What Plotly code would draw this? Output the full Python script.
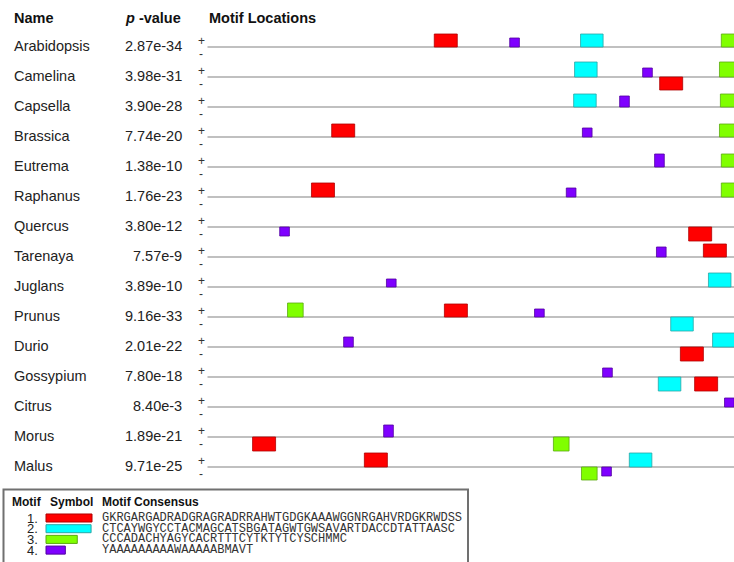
import plotly.graph_objects as go

# ---------------- data ----------------
species = ["Arabidopsis", "Camelina", "Capsella", "Brassica", "Eutrema", "Raphanus",
           "Quercus", "Tarenaya", "Juglans", "Prunus", "Durio", "Gossypium",
           "Citrus", "Morus", "Malus"]
pvalues = ["2.87e-34", "3.98e-31", "3.90e-28", "7.74e-20", "1.38e-10", "1.76e-23",
           "3.80e-12", "7.57e-9", "3.89e-10", "9.16e-33", "2.01e-22", "7.80e-18",
           "8.40e-3", "1.89e-21", "9.71e-25"]
seq_length = 1300

motif_ids = [1, 2, 3, 4]
motif_widths = [50, 49, 34, 21]
motif_colors = ["#FF0000", "#00FFFF", "#80FF00", "#7F00FF"]
motif_borders = ["#B00000", "#2AA6A6", "#5AAA10", "#5000A0"]
motif_consensus = [
    "GKRGARGADRADGRAGRADRRAHWTGDGKAAAWGGNRGAHVRDGKRWDSS",
    "CTCAYWGYCCTACMAGCATSBGATAGWTGWSAVARTDACCDTATTAASC",
    "CCCADACHYAGYCACRTTTCYTKTYTCYSCHMMC",
    "YAAAAAAAAAWAAAAABMAVT",
]

# motif sites: species, motif, strand, start, site score (drawn as box height)
site_species = ["Arabidopsis"] * 4 + ["Camelina"] * 4 + ["Capsella"] * 3 + ["Brassica"] * 3 + \
               ["Eutrema"] * 2 + ["Raphanus"] * 3 + ["Quercus"] * 2 + ["Tarenaya"] * 2 + \
               ["Juglans"] * 2 + ["Prunus"] * 4 + ["Durio"] * 3 + ["Gossypium"] * 3 + \
               ["Citrus"] * 1 + ["Morus"] * 3 + ["Malus"] * 4
site_motif = [1, 4, 2, 3,
              2, 4, 1, 3,
              2, 4, 3,
              1, 4, 3,
              4, 3,
              1, 4, 3,
              4, 1,
              4, 1,
              4, 2,
              3, 1, 4, 2,
              4, 1, 2,
              4, 2, 1,
              4,
              1, 4, 3,
              1, 3, 4, 2]
site_strand = ["+", "+", "+", "+",
               "+", "+", "-", "+",
               "+", "+", "+",
               "+", "+", "+",
               "+", "+",
               "+", "+", "+",
               "-", "-",
               "+", "+",
               "+", "+",
               "+", "+", "+", "-",
               "+", "-", "+",
               "+", "-", "-",
               "+",
               "-", "+", "-",
               "+", "-", "-", "+"]
site_start = [493, 657, 811, 1117,
              798, 946, 983, 1113,
              796, 896, 1115,
              270, 815, 1113,
              972, 1117,
              226, 780, 1117,
              157, 1046,
              976, 1078,
              389, 1089,
              174, 515, 711, 1007,
              296, 1028, 1098,
              859, 980, 1059,
              1124,
              98, 383, 752,
              341, 813, 857, 917]
site_score = [13, 9, 13, 13,
              15, 9, 13, 15,
              13, 11, 13,
              13, 9, 13,
              13, 13,
              14, 9, 14,
              9, 14,
              10, 13,
              8, 14,
              14, 13, 8, 14,
              10, 14, 14,
              9, 14, 14,
              9,
              14, 12, 14,
              14, 13, 9, 14]

# ---------------- layout constants ----------------
W, H = 734, 562
ROW_PX = 30.0
ROW0_PX = 47.0
LINE_X0_PX = 207.5
PX_PER_RES = 0.46
LEG_X0_PX = 46.0
LEG_PX_PER_RES = 0.92
LEG_ROW_PX = 10.7
LEG_ROW1_PX = 518.0

FONT = "Liberation Sans, Arial, sans-serif"
MONO = "Liberation Mono, Courier New, monospace"

def px(xp):
    return xp / W

row_of = {s: i for i, s in enumerate(species)}

fig = go.Figure()

shapes = []
# sequence lines
for i, s in enumerate(species):
    shapes.append(dict(type="line", xref="x", yref="y", x0=0, x1=seq_length, y0=i, y1=i,
                       line=dict(color="#ababab", width=1.6), layer="above"))
# motif boxes
for sp, m, st, x0, sc in zip(site_species, site_motif, site_strand, site_start, site_score):
    r = row_of[sp]
    h = sc / ROW_PX
    if st == "+":
        y0, y1 = r - h, r
    else:
        y0, y1 = r, r + h
    shapes.append(dict(type="rect", xref="x", yref="y", x0=x0, x1=x0 + motif_widths[m - 1],
                       y0=y0, y1=y1, fillcolor=motif_colors[m - 1],
                       line=dict(color=motif_borders[m - 1], width=0.8), layer="above"))
# legend box
shapes.append(dict(type="rect", xref="paper", yref="paper", x0=px(3.5), x1=px(468),
                   y0=-0.05, y1=1 - 489.5 / H, line=dict(color="#707070", width=2),
                   fillcolor="rgba(0,0,0,0)"))

annotations = []
# headers
hy = -0.97
annotations += [
    dict(x=px(12), y=hy, text="<b>Name</b>", xanchor="left"),
    dict(x=px(123), y=hy, text="<b><i>p</i> -value</b>", xanchor="left"),
    dict(x=px(207), y=hy, text="<b>Motif Locations</b>", xanchor="left"),
]
for a in annotations:
    a.update(xref="paper", yref="y", yanchor="middle", showarrow=False,
             font=dict(family=FONT, size=14.5, color="#111"))

for i, (s, p) in enumerate(zip(species, pvalues)):
    annotations.append(dict(x=px(12), y=i - 0.03, xref="paper", yref="y", text=s, xanchor="left",
                            yanchor="middle", showarrow=False,
                            font=dict(family=FONT, size=14.5, color="#222")))
    annotations.append(dict(x=px(183.5), y=i - 0.03, xref="paper", yref="y", text=p,
                            xanchor="right", yanchor="middle", showarrow=False,
                            font=dict(family=FONT, size=14.5, color="#222")))
    annotations.append(dict(x=px(201), y=i - 0.2, xref="paper", yref="y", text="+",
                            xanchor="center", yanchor="middle", showarrow=False,
                            font=dict(family=FONT, size=12, color="#333")))
    annotations.append(dict(x=px(201), y=i + 0.22, xref="paper", yref="y", text="-",
                            xanchor="center", yanchor="middle", showarrow=False,
                            font=dict(family=FONT, size=12, color="#333")))

# legend texts
leg_hdr_y = -0.5
for xp, t in [(10, "Motif"), (48, "Symbol"), (100, "Motif Consensus")]:
    annotations.append(dict(x=px(xp), y=leg_hdr_y, xref="paper", yref="y2",
                            text="<b>%s</b>" % t, xanchor="left", yanchor="middle",
                            showarrow=False, font=dict(family=FONT, size=12, color="#111")))
for mid, cons in zip(motif_ids, motif_consensus):
    annotations.append(dict(x=px(40), y=mid, xref="paper", yref="y2", text="%d." % mid,
                            xanchor="right", yanchor="middle", showarrow=False,
                            font=dict(family=FONT, size=13, color="#222")))
    annotations.append(dict(x=px(100), y=mid, xref="paper", yref="y2", text=cons,
                            xanchor="left", yanchor="middle", showarrow=False,
                            font=dict(family=MONO, size=12, color="#333")))

# legend symbols as horizontal bars
fig.add_trace(go.Bar(x=motif_widths, y=motif_ids, orientation="h", base=0, width=0.75,
                     marker=dict(color=motif_colors,
                                 line=dict(color=motif_borders, width=1)),
                     xaxis="x2", yaxis="y2", hoverinfo="skip"))

# axis ranges (map data units onto pixel positions)
x_range = [-LINE_X0_PX / PX_PER_RES, (W - LINE_X0_PX) / PX_PER_RES]
y_range = [(H - ROW0_PX) / ROW_PX, -ROW0_PX / ROW_PX]
x2_range = [-LEG_X0_PX / LEG_PX_PER_RES, (W - LEG_X0_PX) / LEG_PX_PER_RES]
y2_range = [1 + (H - LEG_ROW1_PX) / LEG_ROW_PX, 1 - LEG_ROW1_PX / LEG_ROW_PX]

ax = dict(visible=False, showgrid=False, zeroline=False, fixedrange=True)
fig.update_layout(
    width=W, height=H, margin=dict(l=0, r=0, t=0, b=0),
    paper_bgcolor="white", plot_bgcolor="rgba(0,0,0,0)", showlegend=False,
    xaxis=dict(range=x_range, domain=[0, 1], anchor="y", **ax),
    yaxis=dict(range=y_range, domain=[0, 1], anchor="x", **ax),
    xaxis2=dict(range=x2_range, domain=[0, 1], anchor="y2", **ax),
    yaxis2=dict(range=y2_range, domain=[0, 1], anchor="x2", **ax),
    shapes=shapes, annotations=annotations,
)

fig.write_html(
    "out.html",
    config={"displayModeBar": False},
    post_script="document.body.style.margin='0';document.body.style.padding='0';"
                "document.body.style.overflow='hidden';",
)
